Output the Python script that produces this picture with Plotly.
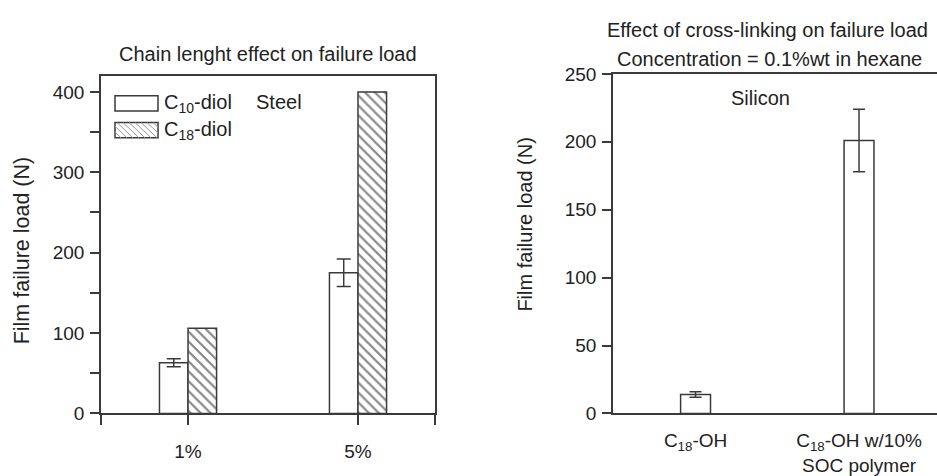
import plotly.graph_objects as go

# ---- data ----
conc_labels = ["1%", "5%"]
c10_load = [63, 175]
c10_err = [5, 17]
c18_load = [106, 400]

xl_labels = ["C<sub>18</sub>-OH", "C<sub>18</sub>-OH w/10%<br>SOC polymer"]
xl_load = [14, 201]
xl_err = [2, 23]

W, H = 937, 476
FONT = "Liberation Sans, Arial, sans-serif"
INK = "#222222"
LINE = "#3a3a3a"


def px(x):
    return x / W


def py(y):
    return 1 - y / H


# panel boxes in pixels (left, top, right, bottom)
L = (101, 69, 435, 423)
R = (613, 67, 937, 423)

fig = go.Figure()

pos_l = list(range(len(conc_labels)))
fig.add_trace(go.Bar(
    x=pos_l, y=c10_load, name="C10-diol", xaxis="x", yaxis="y",
    marker=dict(color="white", line=dict(color=LINE, width=1.5)),
    error_y=dict(type="data", array=c10_err, color=LINE, thickness=1.5, width=7),
    showlegend=False,
))
fig.add_trace(go.Bar(
    x=pos_l, y=c18_load, name="C18-diol", xaxis="x", yaxis="y",
    marker=dict(color="white", line=dict(color=LINE, width=1.5),
                pattern=dict(shape="\\", fgcolor="#111111", bgcolor="white",
                             size=7, solidity=0.32)),
    showlegend=False,
))

pos_r = list(range(len(xl_labels)))
fig.add_trace(go.Bar(
    x=pos_r, y=xl_load, xaxis="x2", yaxis="y2", width=0.183,
    marker=dict(color="white", line=dict(color=LINE, width=1.5)),
    error_y=dict(type="data", array=xl_err, color=LINE, thickness=1.5, width=6),
    showlegend=False,
))

lx0 = -0.512
lx1 = 1.453
axis_common = dict(showgrid=False, zeroline=False, showline=True, linecolor=LINE,
                   linewidth=1.5, tickcolor=LINE, tickwidth=1.5,
                   tickfont=dict(family=FONT, size=19, color=INK))

fig.update_layout(
    width=W, height=H, margin=dict(l=0, r=0, t=0, b=0),
    paper_bgcolor="white", plot_bgcolor="white",
    barmode="group", bargap=0.664, bargroupgap=0,
    font=dict(family=FONT, color=INK),
    xaxis=dict(domain=[px(L[0]), px(L[2])], range=[lx0, lx1], anchor="y",
               tickmode="array",
               tickvals=[lx0 + 0.002] + pos_l + [lx1 - 0.002],
               ticktext=[""] + conc_labels + [""],
               ticks="outside", ticklen=10, mirror=True, ticklabelstandoff=10,
               **axis_common),
    yaxis=dict(domain=[py(L[3]), py(L[1])], range=[0, 420], anchor="x",
               tickmode="linear", tick0=0, dtick=100, ticks="outside", ticklen=9,
               minor=dict(dtick=50, ticks="outside", ticklen=9, tickcolor=LINE,
                          tickwidth=1.5),
               mirror=True, ticklabelstandoff=2, **axis_common),
    xaxis2=dict(domain=[px(R[0]), px(R[2])], range=[-0.505, 1.477], anchor="y2",
                tickmode="array", tickvals=pos_r, ticktext=xl_labels,
                ticks="", mirror=True, ticklabelstandoff=9, **axis_common),
    yaxis2=dict(domain=[py(R[3]), py(R[1])], range=[0, 250], anchor="x2",
                tickmode="linear", tick0=0, dtick=50, ticks="outside", ticklen=9,
                mirror=False, ticklabelstandoff=2, **axis_common),
)

ann = []


def text(x, y, s, size=20, xanchor="center", angle=0):
    ann.append(dict(x=px(x), y=py(y), xref="paper", yref="paper", text=s,
                    showarrow=False, xanchor=xanchor, yanchor="middle",
                    textangle=angle, font=dict(family=FONT, size=size, color=INK)))


text(268, 46, "Chain lenght effect on failure load")
text(767, 21, "Effect of cross-linking on failure load")
text(769, 51, "Concentration = 0.1%wt in hexane")
text(22, 252, "Film failure load (N)", size=21.5, angle=-90)
text(525, 225, "Film failure load (N)", size=20, angle=-90)
text(279, 96, "Steel")
text(760, 92, "Silicon")
text(162, 98, "C<sub>10</sub>-diol", xanchor="left")
text(162, 126, "C<sub>18</sub>-diol", xanchor="left")

shapes = []
# legend key boxes
boxes = [(115, 90, 158, 106), (115, 118, 158, 134)]
for (x0, y0, x1, y1) in boxes:
    shapes.append(dict(type="rect", xref="paper", yref="paper",
                       x0=px(x0), x1=px(x1), y0=py(y1), y1=py(y0),
                       line=dict(color=LINE, width=1.5), fillcolor="white"))

# light diagonal hatch inside the second key box
x0, y0, x1, y1 = boxes[1]
hgt = y1 - y0
path = ""
k = x0 - hgt
while k < x1:
    ax, ay = k, y0
    bx, by = k + hgt, y1
    if ax < x0:
        ay = y0 + (x0 - ax)
        ax = x0
    if bx > x1:
        by = y1 - (bx - x1)
        bx = x1
    if bx > ax:
        path += f"M{px(ax)},{py(ay)} L{px(bx)},{py(by)} "
    k += 6
shapes.append(dict(type="path", xref="paper", yref="paper", path=path,
                   line=dict(color="#9a9a9a", width=1)))

fig.update_layout(annotations=ann, shapes=shapes)

fig.write_html("out.html")
